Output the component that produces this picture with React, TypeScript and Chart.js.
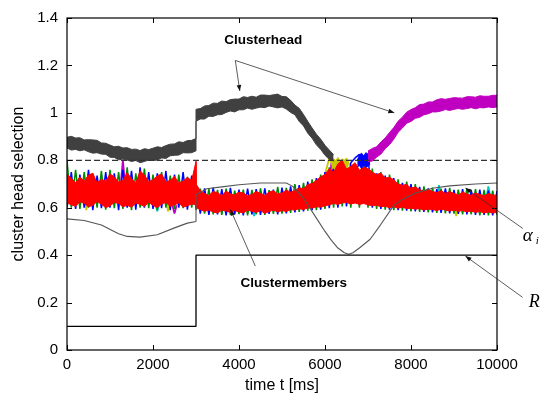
import React, { useEffect, useRef } from "react";
import { Chart, registerables } from "chart.js";
Chart.register(...registerables);

// time samples (ms); 3000 appears twice to keep the step vertical
const T = [
  0, 100, 200, 300, 400, 500, 600, 700, 800, 900,
  1000, 1100, 1200, 1300, 1400, 1500, 1600, 1700, 1800, 1900,
  2000, 2100, 2200, 2300, 2400, 2500, 2600, 2700, 2800, 2900,
  3000, 3000, 3100, 3200, 3300, 3400, 3500, 3600, 3700, 3800, 3900,
  4000, 4100, 4200, 4300, 4400, 4500, 4600, 4700, 4800, 4900,
  5000, 5100, 5200, 5300, 5400, 5500, 5600, 5700, 5800, 5900,
  6000, 6100, 6200, 6300, 6400, 6500, 6600, 6700, 6800, 6900,
  7000, 7100, 7200, 7300, 7400, 7500, 7600, 7700, 7800, 7900,
  8000, 8100, 8200, 8300, 8400, 8500, 8600, 8700, 8800, 8900,
  9000, 9100, 9200, 9300, 9400, 9500, 9600, 9700, 9800, 9900,
  10000,
];

// Clusterhead (first node, dark gray): upper / lower edge of the noisy band
const grayT = T.slice(0, 64);
const grayHi = [
  0.897, 0.901, 0.894, 0.895, 0.886, 0.887, 0.886, 0.884, 0.873, 0.872,
  0.864, 0.857, 0.859, 0.852, 0.853, 0.846, 0.847, 0.841, 0.849, 0.845,
  0.851, 0.857, 0.854, 0.862, 0.868, 0.869, 0.878, 0.875, 0.883, 0.884,
  0.892, 1.015,
  1.018, 1.029, 1.031, 1.041, 1.04, 1.05, 1.047, 1.056, 1.058,
  1.058, 1.068, 1.065, 1.07, 1.066, 1.075, 1.075, 1.073, 1.076, 1.079,
  1.069, 1.068, 1.053, 1.033, 1.019, 0.993, 0.964, 0.936, 0.91, 0.889,
  0.863, 0.843, 0.824,
];
const grayLo = [
  0.852, 0.843, 0.846, 0.84, 0.844, 0.836, 0.83, 0.832, 0.826, 0.825,
  0.813, 0.812, 0.802, 0.805, 0.801, 0.795, 0.799, 0.79, 0.795, 0.801,
  0.799, 0.801, 0.81, 0.808, 0.819, 0.821, 0.822, 0.832, 0.831, 0.832,
  0.84, 0.965,
  0.974, 0.974, 0.986, 0.985, 0.992, 0.993, 1.002, 1.008, 1.004,
  1.013, 1.013, 1.02, 1.015, 1.02, 1.024, 1.022, 1.029, 1.025, 1.021,
  1.025, 1.016, 1.002, 0.992, 0.964, 0.945, 0.914, 0.893, 0.865, 0.846,
  0.821, 0.804, 0.797,
];

// Clusterhead (second node, magenta)
const magT = T.slice(71);
const magHi = [
  0.839, 0.85, 0.857, 0.877, 0.894, 0.917, 0.938, 0.965, 0.982, 1.003,
  1.014, 1.022, 1.035, 1.037, 1.046, 1.046, 1.055, 1.06, 1.057, 1.061,
  1.064, 1.063, 1.062, 1.068, 1.068, 1.066, 1.072, 1.07, 1.07, 1.074,
  1.074,
];
const magLo = [
  0.794, 0.797, 0.813, 0.826, 0.849, 0.866, 0.889, 0.918, 0.936, 0.956,
  0.964, 0.977, 0.981, 0.992, 0.996, 1.004, 1.004, 1.008, 1.014, 1.01,
  1.015, 1.018, 1.015, 1.018, 1.022, 1.017, 1.022, 1.021, 1.025, 1.022,
  1.025,
];

// Clustermembers: red band edges
const redHi = [
  0.74, 0.725, 0.705, 0.73, 0.712, 0.738, 0.745, 0.705, 0.72, 0.712,
  0.742, 0.73, 0.708, 0.715, 0.748, 0.722, 0.705, 0.755, 0.738, 0.71,
  0.718, 0.735, 0.742, 0.708, 0.716, 0.732, 0.705, 0.712, 0.728, 0.715,
  0.795, 0.7,
  0.672, 0.66, 0.652, 0.668, 0.664, 0.65, 0.67, 0.658, 0.654,
  0.666, 0.662, 0.65, 0.656, 0.668, 0.66, 0.652, 0.666, 0.672, 0.658,
  0.662, 0.674, 0.666, 0.672, 0.684, 0.68, 0.698, 0.702, 0.716, 0.73,
  0.74, 0.765, 0.748, 0.785, 0.8, 0.762, 0.775, 0.79, 0.758, 0.772,
  0.765, 0.75, 0.74, 0.746, 0.725, 0.728, 0.718, 0.7, 0.695, 0.698,
  0.682, 0.688, 0.676, 0.67, 0.678, 0.668, 0.664, 0.672, 0.66, 0.668,
  0.66, 0.654, 0.666, 0.658, 0.652, 0.662, 0.656, 0.65, 0.66, 0.654,
  0.652,
];
const redLo = [
  0.62, 0.612, 0.606, 0.625, 0.618, 0.604, 0.61, 0.626, 0.615, 0.6,
  0.608, 0.622, 0.618, 0.604, 0.61, 0.602, 0.62, 0.614, 0.606, 0.622,
  0.61, 0.6, 0.616, 0.622, 0.606, 0.612, 0.62, 0.602, 0.608, 0.616,
  0.612, 0.6,
  0.592, 0.585, 0.59, 0.582, 0.578, 0.59, 0.586, 0.58, 0.588,
  0.582, 0.578, 0.59, 0.585, 0.58, 0.588, 0.576, 0.584, 0.59, 0.582,
  0.588, 0.584, 0.592, 0.59, 0.596, 0.592, 0.6, 0.598, 0.604, 0.602,
  0.608, 0.612, 0.618, 0.614, 0.62, 0.622, 0.616, 0.62, 0.614, 0.618,
  0.612, 0.608, 0.61, 0.604, 0.606, 0.6, 0.604, 0.598, 0.602, 0.596,
  0.598, 0.594, 0.596, 0.59, 0.594, 0.592, 0.588, 0.594, 0.59, 0.586,
  0.59, 0.585, 0.588, 0.582, 0.586, 0.58, 0.584, 0.578, 0.582, 0.578,
  0.58,
];
const green = [
  0.8, 0.6, 0.76, 0.595, 0.75, 0.6, 0.745, 0.6, 0.755, 0.592,
  0.76, 0.598, 0.75, 0.595, 0.77, 0.59, 0.745, 0.6, 0.765, 0.598,
  0.74, 0.59, 0.75, 0.6, 0.735, 0.595, 0.74, 0.598, 0.73, 0.6,
  0.745, 0.59,
  0.68, 0.575, 0.678, 0.572, 0.675, 0.57, 0.68, 0.57, 0.672,
  0.573, 0.676, 0.568, 0.675, 0.572, 0.682, 0.57, 0.674, 0.574, 0.688,
  0.575, 0.684, 0.578, 0.7, 0.582, 0.705, 0.588, 0.72, 0.59, 0.74,
  0.595, 0.77, 0.6, 0.8, 0.605, 0.79, 0.6, 0.775, 0.6, 0.79,
  0.6, 0.765, 0.595, 0.75, 0.592, 0.74, 0.59, 0.72, 0.588, 0.71,
  0.585, 0.7, 0.582, 0.69, 0.58, 0.685, 0.578, 0.68, 0.576, 0.684,
  0.575, 0.676, 0.572, 0.68, 0.572, 0.678, 0.568, 0.675, 0.568, 0.672,
  0.57,
];
const blue = [
  0.6, 0.75, 0.595, 0.74, 0.6, 0.76, 0.59, 0.735, 0.598, 0.75,
  0.6, 0.745, 0.59, 0.76, 0.6, 0.755, 0.592, 0.77, 0.6, 0.75,
  0.595, 0.745, 0.598, 0.755, 0.59, 0.74, 0.6, 0.75, 0.592, 0.735,
  0.6, 0.69,
  0.575, 0.682, 0.57, 0.685, 0.572, 0.678, 0.568, 0.684, 0.572,
  0.676, 0.568, 0.68, 0.572, 0.678, 0.57, 0.682, 0.574, 0.676, 0.572,
  0.685, 0.576, 0.69, 0.58, 0.695, 0.585, 0.71, 0.59, 0.725, 0.592,
  0.75, 0.598, 0.77, 0.6, 0.785, 0.605, 0.79, 0.81, 0.825, 0.8,
  0.82, 0.6, 0.745, 0.595, 0.735, 0.592, 0.725, 0.59, 0.705, 0.588,
  0.7, 0.585, 0.688, 0.582, 0.682, 0.58, 0.678, 0.578, 0.682, 0.576,
  0.675, 0.574, 0.678, 0.572, 0.674, 0.57, 0.676, 0.57, 0.672, 0.568,
  0.67,
];
// dense patches near the threshold
const blueBlobT = [6750, 6800, 6850, 6900, 6950, 7000, 7050];
const blueBlobHi = [0.8, 0.822, 0.83, 0.818, 0.832, 0.826, 0.81];
const blueBlobLo = [0.772, 0.778, 0.765, 0.78, 0.77, 0.776, 0.782];
const yelBlobT = [6150, 6200, 6250, 6300, 6350, 6400, 6450, 6500, 6550];
const yelBlobHi = [0.79, 0.806, 0.798, 0.812, 0.796, 0.806, 0.8, 0.81, 0.79];
const yelBlobLo = [0.762, 0.768, 0.756, 0.772, 0.76, 0.766, 0.755, 0.77, 0.762];
// sparse members
const yelT = [400, 450, 500, 550, 2300, 2350, 2400, 2450, 5900, 6000, 6100, 6200, 6300, 6400, 6500, 6600, 6700, 6800, 9000, 9050, 9100];
const yelV = [0.66, 0.59, 0.66, null, 0.65, 0.585, 0.65, null, 0.7, 0.74, 0.81, 0.77, 0.805, 0.78, 0.8, 0.775, 0.74, null, 0.61, 0.565, 0.61];
const cyanT = [2050, 2100, 2150, 2200, 4300, 4350, 4400, 4450, 8600, 8650, 8700, 8750, 9750, 9800, 9850];
const cyanV = [0.62, 0.585, 0.62, null, 0.6, 0.565, 0.6, null, 0.64, 0.695, 0.64, null, 0.64, 0.69, 0.64];
const mMagT = [1250, 1300, 1350, 1400, 2450, 2500, 2550, 2600, 6100, 6150, 6200, 6250];
const mMagV = [0.7, 0.8, 0.7, null, 0.61, 0.575, 0.61, null, 0.7, 0.79, 0.7, null];

// alpha_i curve
const alphaT = [0, 400, 800, 1200, 1400, 1700, 2100, 2500, 2800, 3000, 3000, 3250, 3600, 4000, 4500, 5100, 5250, 5500, 5800, 6000, 6150, 6300, 6450, 6550, 6650, 6800, 7050, 7300, 7600, 7800, 8100, 8500, 8900, 9500, 10000];
const alphaV = [0.553, 0.546, 0.527, 0.49, 0.479, 0.476, 0.486, 0.515, 0.535, 0.542, 0.655, 0.68, 0.688, 0.697, 0.704, 0.704, 0.69, 0.64, 0.556, 0.5, 0.462, 0.43, 0.41, 0.404, 0.41, 0.43, 0.467, 0.53, 0.61, 0.635, 0.662, 0.682, 0.692, 0.7, 0.704];

// R step
const rT = [0, 3000, 3000, 10000];
const rV = [0.1, 0.1, 0.4, 0.4];

// threshold
const thrT = [0, 10000];
const thrV = [0.8, 0.8];

const xTicks = [0, 2000, 4000, 6000, 8000, 10000];
const yTicks = [0, 0.2, 0.4, 0.6, 0.8, 1, 1.2, 1.4];

// annotations in data coordinates
const arrows = [
  { from: [3914, 1.221], to: [4019, 1.092] },
  { from: [3914, 1.221], to: [7612, 1.0] },
  { from: [4379, 0.354], to: [3802, 0.592] },
  { from: [10600, 0.5125], to: [9265, 0.683] },
  { from: [10595, 0.222], to: [9265, 0.396] },
];
const textLabels = [
  { text: "Clusterhead", at: [4565, 1.304] },
  { text: "Clustermembers", at: [5274, 0.283] },
];

const pts = (xs: number[], ys: (number | null)[]) => xs.map((x, i) => ({ x, y: ys[i] }));

const FONT = "'Liberation Sans', Arial, Helvetica, sans-serif";

const framePlugin = {
  id: "frame",
  afterDraw(chart: any) {
    const { ctx, chartArea: a, scales } = chart;
    const x = scales.x, y = scales.y;
    ctx.save();
    ctx.strokeStyle = "#000";
    ctx.lineWidth = 1.2;
    ctx.strokeRect(a.left, a.top, a.right - a.left, a.bottom - a.top);
    ctx.lineWidth = 1;
    ctx.beginPath();
    for (const v of xTicks) {
      const px = Math.round(x.getPixelForValue(v)) + 0.5;
      ctx.moveTo(px, a.bottom); ctx.lineTo(px, a.bottom - 5);
      ctx.moveTo(px, a.top); ctx.lineTo(px, a.top + 5);
    }
    for (const v of yTicks) {
      const py = Math.round(y.getPixelForValue(v)) + 0.5;
      ctx.moveTo(a.left, py); ctx.lineTo(a.left + 5, py);
      ctx.moveTo(a.right, py); ctx.lineTo(a.right - 5, py);
    }
    ctx.stroke();

    // arrows
    ctx.strokeStyle = "#333";
    ctx.fillStyle = "#111";
    ctx.lineWidth = 0.8;
    for (const ar of arrows) {
      const x1 = x.getPixelForValue(ar.from[0]), y1 = y.getPixelForValue(ar.from[1]);
      const x2 = x.getPixelForValue(ar.to[0]), y2 = y.getPixelForValue(ar.to[1]);
      ctx.beginPath(); ctx.moveTo(x1, y1); ctx.lineTo(x2, y2); ctx.stroke();
      const ang = Math.atan2(y2 - y1, x2 - x1);
      const L = 6, W = 2.3;
      ctx.beginPath();
      ctx.moveTo(x2, y2);
      ctx.lineTo(x2 - L * Math.cos(ang) + W * Math.sin(ang), y2 - L * Math.sin(ang) - W * Math.cos(ang));
      ctx.lineTo(x2 - L * Math.cos(ang) - W * Math.sin(ang), y2 - L * Math.sin(ang) + W * Math.cos(ang));
      ctx.closePath(); ctx.fill();
    }
    // text labels
    ctx.fillStyle = "#000";
    ctx.font = `bold 13.5px ${FONT}`;
    ctx.textAlign = "center";
    ctx.textBaseline = "middle";
    for (const t of textLabels) {
      ctx.fillText(t.text, x.getPixelForValue(t.at[0]), y.getPixelForValue(t.at[1]));
    }
    // alpha_i and R labels (right of plot)
    ctx.textAlign = "left";
    ctx.font = "italic 19px 'Liberation Serif', 'DejaVu Serif', serif";
    const ax = x.getPixelForValue(10600), ay = y.getPixelForValue(0.479);
    ctx.fillText("\u03b1", ax, ay);
    const aw = ctx.measureText("\u03b1").width;
    ctx.font = "italic 11px 'Liberation Serif', 'DejaVu Serif', serif";
    ctx.fillText("i", ax + aw + 3, ay + 5);
    ctx.font = "italic 18px 'Liberation Serif', 'DejaVu Serif', serif";
    ctx.fillText("R", x.getPixelForValue(10740), y.getPixelForValue(0.2));
    ctx.restore();
  },
};

export default function App() {
  const ref = useRef<HTMLCanvasElement | null>(null);
  useEffect(() => {
    if (!ref.current) return;
    const line = (data: any, color: string, width: number, order: number, extra: any = {}) => ({
      data, borderColor: color, backgroundColor: color, borderWidth: width, order,
      pointRadius: 0, tension: 0, fill: false, borderJoinStyle: "bevel", spanGaps: false, ...extra,
    });
    const chart = new Chart(ref.current, {
      type: "line",
      data: {
        datasets: [
          line(pts(thrT, thrV), "#333", 1.3, 0, { borderDash: [6, 3] }),
          line(pts(rT, rV), "#000", 1.3, 0),
          line(pts(alphaT, alphaV), "#555", 1.1, 1),
          line(pts(grayT, grayHi), "#404040", 1, 2),
          line(pts(grayT, grayLo), "#404040", 1, 2, { fill: "-1" }),
          line(pts(magT, magHi), "#c000c0", 1, 2),
          line(pts(magT, magLo), "#c000c0", 1, 2, { fill: "-1" }),
          line(pts(blueBlobT, blueBlobHi), "#0000ff", 1, 2.5),
          line(pts(blueBlobT, blueBlobLo), "#0000ff", 1, 2.5, { fill: "-1" }),
          line(pts(T, redHi), "#ff0000", 1, 3),
          line(pts(T, redLo), "#ff0000", 1, 3, { fill: "-1" }),
          line(pts(yelBlobT, yelBlobHi), "#c8c800", 1, 3.5),
          line(pts(yelBlobT, yelBlobLo), "#c8c800", 1, 3.5, { fill: "-1" }),
          line(pts(T, blue), "#0000ff", 1.5, 4),
          line(pts(T, green), "#008c00", 1.5, 5),
          line(pts(yelT, yelV), "#c8c800", 1.8, 6),
          line(pts(cyanT, cyanV), "#00c8c8", 1.8, 6),
          line(pts(mMagT, mMagV), "#c000c0", 1.8, 6),
        ],
      },
      options: {
        animation: false,
        responsive: false,
        devicePixelRatio: 1,
        layout: { padding: { left: 0, right: 46, top: 14, bottom: 0 } },
        plugins: { legend: { display: false }, tooltip: { enabled: false } },
        scales: {
          x: {
            type: "linear",
            min: 0,
            max: 10000,
            afterBuildTicks: (s: any) => { s.ticks = xTicks.map((v) => ({ value: v })); },
            afterFit: (s: any) => { s.height = 48; },
            grid: { display: false, drawTicks: false },
            border: { display: false },
            ticks: { autoSkip: false, maxRotation: 0, padding: 6, color: "#000", font: { family: FONT, size: 15 }, callback: (v: any) => String(v) },
            title: { display: true, text: "time t [ms]", color: "#000", font: { family: FONT, size: 16 }, padding: { top: 0, bottom: 3 } },
          },
          y: {
            type: "linear",
            min: 0,
            max: 1.4,
            afterBuildTicks: (s: any) => { s.ticks = yTicks.map((v) => ({ value: v })); },
            afterFit: (s: any) => { s.width = 67; },
            grid: { display: false, drawTicks: false },
            border: { display: false },
            ticks: { autoSkip: false, padding: 9, color: "#000", font: { family: FONT, size: 15 }, callback: (v: any) => String(v) },
            title: { display: true, text: "cluster head selection", color: "#000", font: { family: FONT, size: 16 }, padding: { top: 9, bottom: 0 } },
          },
        },
      },
      plugins: [framePlugin],
    } as any);
    return () => chart.destroy();
  }, []);
  return (
    <div style={{ position: "fixed", left: 0, top: 0, width: 543, height: 398, background: "#fff" }}>
      <canvas ref={ref} width={543} height={398} />
    </div>
  );
}
